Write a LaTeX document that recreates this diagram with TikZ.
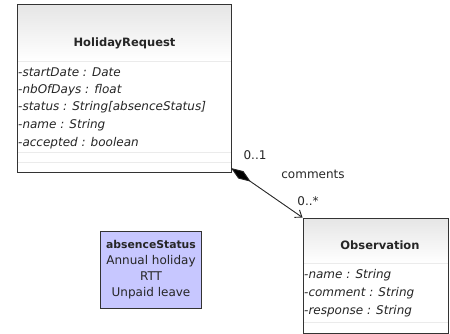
\documentclass[tikz,border=0pt]{standalone}
\usepackage{fontspec}
\setmainfont{DejaVu Sans}
\usetikzlibrary{arrows.meta,shapes.geometric}
\begin{document}
\begin{tikzpicture}[x=1pt,y=-1pt,
  box/.style={draw=black!80,line width=1pt,inner sep=0pt},
  title/.style={font=\fontsize{11.5}{13}\selectfont\bfseries,text=black!85},
  attr/.style={font=\fontsize{12}{14}\selectfont\itshape,anchor=west,inner sep=0pt,text=black!85},
  lbl/.style={font=\fontsize{12}{14}\selectfont,text=black!85,inner sep=0pt},
  enumtxt/.style={font=\fontsize{12}{14}\selectfont,text=black!85,inner sep=0pt}]
\useasboundingbox (0,0) rectangle (450,334);
% HolidayRequest
\shade[top color=black!10,bottom color=white] (17,5) rectangle (231,61);
\fill[white] (17,61) rectangle (231,173);
\draw[black!8] (17,61) -- (231,61);
\draw[black!8] (17,152) -- (231,152);
\draw[black!8] (17,162) -- (231,162);
\node[box,minimum width=214pt,minimum height=168pt] (hr) at (124,89) {};
\coordinate (hrc) at (231,168);
\node[title] (hrt) at (124.5,43) {HolidayRequest};
\node[attr] (a1) at (18,72) {-startDate : Date};
\node[attr] (a2) at (18,90) {-nbOfDays : float};
\node[attr] (a3) at (18,107) {-status : String[absenceStatus]};
\node[attr] (a4) at (18,125) {-name : String};
\node[attr] (a5) at (18,143) {-accepted : boolean};
% Observation
\shade[top color=black!10,bottom color=white] (303,218) rectangle (448,263);
\fill[white] (303,263) rectangle (448,333);
\draw[black!8] (303,263) -- (448,263);
\draw[black!8] (303,322) -- (448,322);
\node[box,minimum width=145pt,minimum height=115pt] (ob) at (375.5,275.5) {};
\node[title] (obt) at (380,245) {Observation};
\node[attr] (b1) at (304,275) {-name : String};
\node[attr] (b2) at (304,293) {-comment : String};
\node[attr] (b3) at (304,311) {-response : String};
% enum
\node[draw=black!80,line width=0.8pt,fill=blue!22,inner sep=2pt,align=center,minimum width=101pt,
  minimum height=77pt,enumtxt] (en) at (151,270)
  {{\fontsize{10.8}{13}\selectfont\bfseries absenceStatus}\\[2pt]Annual holiday\\[2pt]RTT\\[2pt]Unpaid leave};
% connector
\draw[black!85,line width=0.9pt,
  {Diamond[length=24pt,width=9pt,fill=black]}-{Straight Barb[length=6pt,width=9pt]}] (hrc) -- (ob.north west);
\node[lbl] (m1) at (255,155) {0..1};
\node[lbl] (rn) at (313,174) {comments};
\node[lbl] (m2) at (308,201) {0..*};
\end{tikzpicture}
\end{document}
